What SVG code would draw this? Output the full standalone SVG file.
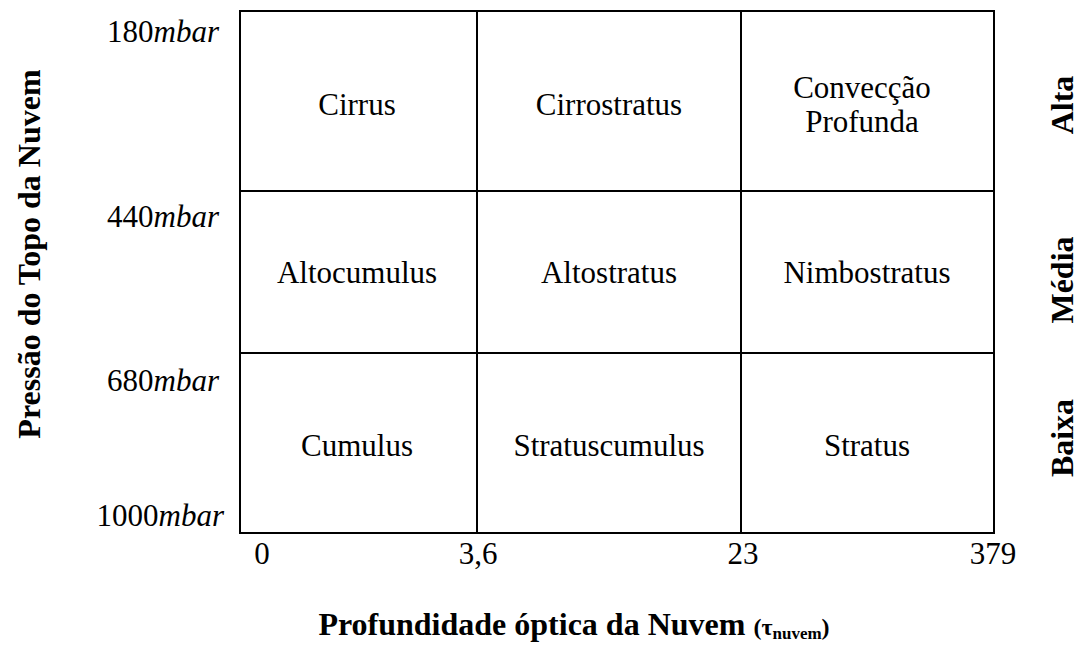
<svg xmlns="http://www.w3.org/2000/svg" width="1082" height="645" viewBox="0 0 1082 645">
<style>
.grid{fill:none;stroke:#000;stroke-width:2}
.cell{font-family:"Liberation Serif",serif;font-size:31px;fill:#000;text-anchor:middle}
.lab{font-family:"Liberation Serif",serif;font-size:31px;fill:#000;text-anchor:end}
.ax{font-family:"Liberation Serif",serif;font-size:32px;font-weight:bold;fill:#000;text-anchor:middle}
</style>
<rect width="1082" height="645" fill="#fff"/>
<g id="connectors">
<rect class="grid" x="240" y="11" width="754" height="522"/>
<line class="grid" x1="240" y1="191" x2="994" y2="191"/>
<line class="grid" x1="240" y1="353" x2="994" y2="353"/>
<line class="grid" x1="477" y1="11" x2="477" y2="533"/>
<line class="grid" x1="741" y1="11" x2="741" y2="533"/>
</g>
<g id="cirrus"><text class="cell" x="357" y="115">Cirrus</text></g>
<g id="cirrostratus"><text class="cell" x="609" y="115">Cirrostratus</text></g>
<g id="conveccao"><text class="cell" x="862" y="98">Convecção</text><text class="cell" x="862" y="132">Profunda</text></g>
<g id="altocumulus"><text class="cell" x="357" y="283">Altocumulus</text></g>
<g id="altostratus"><text class="cell" x="609" y="283">Altostratus</text></g>
<g id="nimbostratus"><text class="cell" x="867" y="283">Nimbostratus</text></g>
<g id="cumulus"><text class="cell" x="357" y="456">Cumulus</text></g>
<g id="stratuscumulus"><text class="cell" x="609" y="456">Stratuscumulus</text></g>
<g id="stratus"><text class="cell" x="867" y="456">Stratus</text></g>
<g id="ylabels">
<text class="lab" x="219" y="42">180<tspan font-style="italic">mbar</tspan></text>
<text class="lab" x="219" y="227">440<tspan font-style="italic">mbar</tspan></text>
<text class="lab" x="219" y="391">680<tspan font-style="italic">mbar</tspan></text>
<text class="lab" x="224" y="526">1000<tspan font-style="italic">mbar</tspan></text>
</g>
<g id="xlabels">
<text class="cell" x="262" y="564">0</text>
<text class="cell" x="478" y="564">3,6</text>
<text class="cell" x="743" y="564">23</text>
<text class="cell" x="993" y="564">379</text>
</g>
<g id="ytitle"><text class="ax" transform="translate(40,254) rotate(-90)">Pressão do Topo da Nuvem</text></g>
<g id="xtitle"><text class="ax" x="574" y="635" font-size="31">Profundidade óptica da Nuvem <tspan font-size="24">(τ</tspan><tspan font-size="17" dy="4">nuvem</tspan><tspan font-size="24" dy="-4">)</tspan></text></g>
<g id="levels">
<text class="ax" transform="translate(1073,105) rotate(-90)">Alta</text>
<text class="ax" transform="translate(1073,280) rotate(-90)">Média</text>
<text class="ax" transform="translate(1073,438) rotate(-90)">Baixa</text>
</g>
</svg>
